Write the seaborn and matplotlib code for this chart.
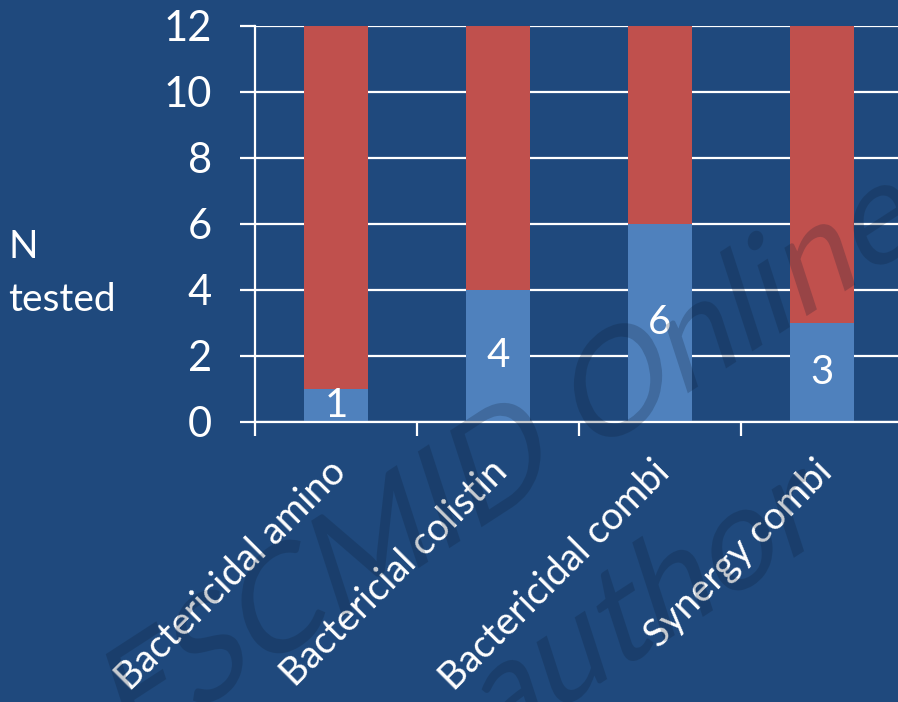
import matplotlib
matplotlib.use("Agg")
import matplotlib.pyplot as plt
import matplotlib.transforms as mtransforms
from matplotlib.textpath import TextPath
from matplotlib.patches import PathPatch
from matplotlib.font_manager import FontProperties
import pandas as pd
import seaborn as sns

# Data
categories = ["Bactericidal amino", "Bactericial colistin", "Bactericidal combi", "Synergy combi"]
positive = [1, 4, 6, 3]
tested = [12, 12, 12, 12]
yticks = [0, 2, 4, 6, 8, 10, 12]

BG = "#1F497D"
BLUE = "#4F81BD"
RED = "#C0504D"
FONT = ["Lato", "DejaVu Sans"]
DPI = 100

sns.set_theme(style="white")
plt.rcParams["font.family"] = FONT

df = pd.DataFrame({"category": categories, "positive": positive, "tested": tested})

fig = plt.figure(figsize=(8.98, 7.02), dpi=DPI, facecolor=BG)
ax = fig.add_axes([0.284, 0.399, 0.7216, 0.564])
ax.set_facecolor(BG)

# Stacked bars: full count in red, positive share in blue on top of it
sns.barplot(data=df, x="category", y="tested", color=RED, width=0.4,
            saturation=1, linewidth=0, edgecolor="none", ax=ax, zorder=2)
sns.barplot(data=df, x="category", y="positive", color=BLUE, width=0.4,
            saturation=1, linewidth=0, edgecolor="none", ax=ax, zorder=3)

blue_bars = ax.containers[1]
ax.bar_label(blue_bars, labels=[str(v) for v in positive], label_type="center",
             color="white", fontsize=29, family=FONT, padding=0)

ax.set_xlim(-0.5, 3.5)
ax.set_ylim(0, 12)
ax.set_yticks(yticks)
ax.set_yticklabels([str(t) for t in yticks])
ax.set_xlabel("")
ax.set_ylabel("")

# Grid and spines
ax.yaxis.grid(True, color="white", linewidth=1.6, zorder=1)
ax.set_axisbelow(True)
for side in ["top", "right"]:
    ax.spines[side].set_visible(False)
for side in ["left", "bottom"]:
    ax.spines[side].set_color("white")
    ax.spines[side].set_linewidth(1.6)
    ax.spines[side].set_zorder(4)

# x ticks on category boundaries, labels at category centres
ax.set_xticks([-0.5, 0.5, 1.5, 2.5], minor=True)
ax.tick_params(axis="x", which="minor", direction="out", length=10, width=1.6,
               color="white", bottom=True)
ax.tick_params(axis="x", which="major", length=0, pad=32, labelsize=27.5,
               labelcolor="white")
ax.tick_params(axis="y", direction="out", length=11, width=1.6, color="white",
               left=True, pad=20, labelsize=30, labelcolor="white")

ax.set_xticks(range(len(categories)))
ax.set_xticklabels(categories)
offset = mtransforms.ScaledTranslation(4 / DPI, 0, fig.dpi_scale_trans)
for lab in ax.get_xticklabels():
    lab.set_rotation(45)
    lab.set_ha("right")
    lab.set_va("center")
    lab.set_rotation_mode("anchor")
    lab.set_transform(lab.get_transform() + offset)

fig.text(0.009, 0.61, "N\ntested", color="white", fontsize=28, ha="left",
         va="center", linespacing=1.6, family=FONT)


# Slanted watermark text, built from glyph outlines so it can be sheared
def watermark(text, anchor_prefix, target_px, size_px=137, angle=33, lean=15):
    prop = FontProperties(family="Lato")
    path = TextPath((0, 0), text, size=size_px, prop=prop)
    pre = TextPath((0, 0), anchor_prefix, size=size_px, prop=prop).get_extents()
    last = TextPath((0, 0), anchor_prefix[-1], size=size_px, prop=prop).get_extents()
    cx = pre.x1 - last.width / 2
    cy = (last.y0 + last.y1) / 2
    tx, ty = target_px
    tr = (mtransforms.Affine2D()
          .translate(-cx, -cy)
          .skew_deg(lean, 0)
          .rotate_deg(angle)
          .translate(tx, 702 - ty)
          .scale(1 / DPI)) + fig.dpi_scale_trans
    patch = PathPatch(path, transform=tr, facecolor="#0b1b30", edgecolor="none",
                      alpha=0.22, zorder=20)
    patch.set_clip_on(False)
    fig.add_artist(patch)


watermark("ESCMID Online", "ESCMID O", (618, 380))
watermark("author", "autho", (742, 550))

fig.savefig("out.png", dpi=DPI, facecolor=BG)
